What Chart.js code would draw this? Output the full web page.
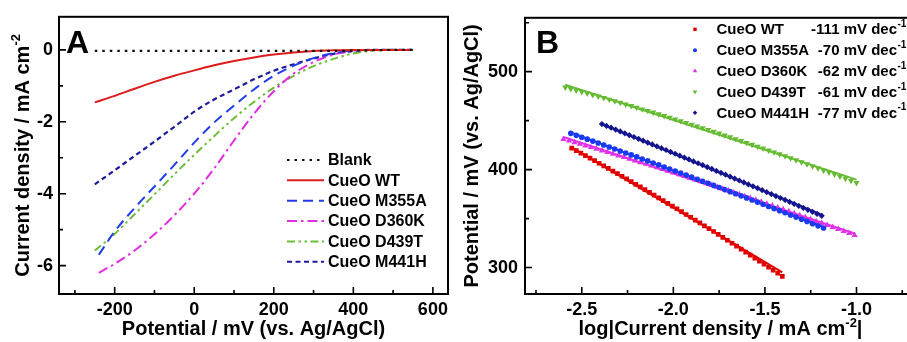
<!DOCTYPE html>
<html>
<head>
<meta charset="utf-8">
<script src="https://cdn.jsdelivr.net/npm/chart.js@4.4.1/dist/chart.umd.min.js"></script>
<style>
    html, body { margin: 0; padding: 0; background: #fff; overflow: hidden; width: 907px; height: 342px; }
    #wrapA { position: absolute; left: 0; top: 0; width: 460px; height: 342px; }
    #wrapB { position: absolute; left: 460px; top: 0; width: 460px; height: 342px; }
</style>
</head>
<body>
<div id="wrapA"><canvas id="chartA" width="460" height="342"></canvas></div>
<div id="wrapB"><canvas id="chartB" width="460" height="342"></canvas></div>
<script>
// ---- Panel A: polarization curves (potential in mV, current density in mA cm-2) ----
const potA = [-250, -200, -150, -100, -50, 0, 50, 100, 150, 200, 250, 300, 350, 400, 450, 500, 550];
const potA240 = [-240, -200, -150, -100, -50, 0, 50, 100, 150, 200, 250, 300, 350, 400, 450, 500, 550];
const jBlank = [-0.03, -0.03, -0.03, -0.03, -0.03, -0.03, -0.03, -0.03, -0.03, -0.03, -0.03, -0.03, -0.03, -0.02, -0.01, 0, 0];
const jWT    = [-1.46, -1.28, -1.08, -0.89, -0.72, -0.57, -0.43, -0.31, -0.21, -0.13, -0.07, -0.03, -0.01, 0, 0, 0, 0];
const jM355A = [-5.70, -5.05, -4.40, -3.80, -3.20, -2.58, -2.02, -1.55, -1.10, -0.72, -0.44, -0.23, -0.09, -0.02, 0, 0, 0];
const jD360K = [-6.20, -5.95, -5.58, -5.13, -4.60, -4.00, -3.30, -2.52, -1.78, -1.15, -0.66, -0.34, -0.13, -0.03, 0, 0, 0];
const jD439T = [-5.58, -5.12, -4.57, -4.02, -3.46, -2.92, -2.40, -1.90, -1.45, -1.05, -0.72, -0.45, -0.25, -0.10, -0.02, 0, 0];
const jM441H = [-3.74, -3.35, -2.95, -2.55, -2.14, -1.72, -1.38, -1.10, -0.82, -0.58, -0.40, -0.24, -0.11, -0.03, 0, 0, 0];

const xTicksA = [-200, 0, 200, 400, 600];
const xMinorA = [-300, -100, 100, 300, 500];
const yTicksA = [-6, -4, -2, 0];
const yMinorA = [-5, -3, -1];

// ---- Panel B: Tafel plots (log|j| vs potential in mV) ----
const logjWT = [-2.555, -2.53, -2.505, -2.48, -2.455, -2.43, -2.405, -2.38, -2.355, -2.33, -2.305, -2.28, -2.255, -2.23, -2.205, -2.18, -2.155, -2.13, -2.105, -2.08, -2.055, -2.03, -2.005, -1.98, -1.955, -1.93, -1.905, -1.88, -1.855, -1.83, -1.805, -1.78, -1.755, -1.73, -1.705, -1.68, -1.655, -1.63, -1.605, -1.58, -1.555, -1.53, -1.505, -1.48, -1.455, -1.43, -1.405];
const eWT = [422.0, 419.4, 416.9, 414.3, 411.7, 409.1, 406.5, 403.8, 401.2, 398.5, 395.9, 393.2, 390.5, 387.8, 385.0, 382.3, 379.6, 376.8, 374.0, 371.2, 368.4, 365.6, 362.8, 360.0, 357.1, 354.2, 351.4, 348.5, 345.6, 342.6, 339.7, 336.8, 333.8, 330.8, 327.9, 324.8, 321.8, 318.8, 315.8, 312.7, 309.7, 306.6, 303.5, 300.4, 297.3, 294.2, 291.0];

const logjM355A = [-2.56, -2.53, -2.50, -2.47, -2.44, -2.41, -2.38, -2.35, -2.32, -2.29, -2.26, -2.23, -2.20, -2.17, -2.14, -2.11, -2.08, -2.05, -2.02, -1.99, -1.96, -1.93, -1.90, -1.87, -1.84, -1.81, -1.78, -1.75, -1.72, -1.69, -1.66, -1.63, -1.60, -1.57, -1.54, -1.51, -1.48, -1.45, -1.42, -1.39, -1.36, -1.33, -1.30, -1.27, -1.24, -1.21, -1.18];
const eM355A = [437.0, 435.0, 433.0, 431.1, 429.1, 427.1, 425.1, 423.1, 421.1, 419.0, 417.0, 415.0, 413.0, 410.9, 408.9, 406.8, 404.8, 402.7, 400.6, 398.6, 396.5, 394.4, 392.3, 390.2, 388.1, 386.0, 383.9, 381.8, 379.6, 377.5, 375.4, 373.2, 371.1, 368.9, 366.8, 364.6, 362.4, 360.2, 358.1, 355.9, 353.7, 351.5, 349.3, 347.1, 344.8, 342.6, 340.4];

const logjD360K = [-2.60, -2.57, -2.54, -2.51, -2.48, -2.45, -2.42, -2.39, -2.36, -2.33, -2.30, -2.27, -2.24, -2.21, -2.18, -2.15, -2.12, -2.09, -2.06, -2.03, -2.00, -1.97, -1.94, -1.91, -1.88, -1.85, -1.82, -1.79, -1.76, -1.73, -1.70, -1.67, -1.64, -1.61, -1.58, -1.55, -1.52, -1.49, -1.46, -1.43, -1.40, -1.37, -1.34, -1.31, -1.28, -1.25, -1.22, -1.19, -1.16, -1.13, -1.10, -1.07, -1.04, -1.01];
const eD360K = [431.0, 429.4, 427.7, 426.1, 424.4, 422.8, 421.1, 419.4, 417.7, 416.1, 414.3, 412.6, 410.9, 409.2, 407.4, 405.7, 403.9, 402.2, 400.4, 398.6, 396.8, 395.0, 393.2, 391.4, 389.6, 387.8, 385.9, 384.1, 382.2, 380.3, 378.5, 376.6, 374.7, 372.8, 370.9, 369.0, 367.0, 365.1, 363.2, 361.2, 359.3, 357.3, 355.3, 353.3, 351.3, 349.3, 347.3, 345.3, 343.3, 341.2, 339.2, 337.1, 335.1, 333.0];

const logjD439T = [-2.59, -2.56, -2.53, -2.50, -2.47, -2.44, -2.41, -2.38, -2.35, -2.32, -2.29, -2.26, -2.23, -2.20, -2.17, -2.14, -2.11, -2.08, -2.05, -2.02, -1.99, -1.96, -1.93, -1.90, -1.87, -1.84, -1.81, -1.78, -1.75, -1.72, -1.69, -1.66, -1.63, -1.60, -1.57, -1.54, -1.51, -1.48, -1.45, -1.42, -1.39, -1.36, -1.33, -1.30, -1.27, -1.24, -1.21, -1.18, -1.15, -1.12, -1.09, -1.06, -1.03, -1.00];
const eD439T = [484.0, 482.5, 481.0, 479.4, 477.9, 476.3, 474.8, 473.2, 471.6, 470.0, 468.4, 466.7, 465.1, 463.4, 461.7, 460.1, 458.4, 456.7, 454.9, 453.2, 451.4, 449.7, 447.9, 446.1, 444.3, 442.5, 440.7, 438.8, 437.0, 435.1, 433.2, 431.3, 429.4, 427.5, 425.6, 423.6, 421.7, 419.7, 417.8, 415.8, 413.8, 411.7, 409.7, 407.7, 405.6, 403.5, 401.4, 399.3, 397.2, 395.1, 393.0, 390.8, 388.7, 386.5];

const logjM441H = [-2.39, -2.365, -2.34, -2.315, -2.29, -2.265, -2.24, -2.215, -2.19, -2.165, -2.14, -2.115, -2.09, -2.065, -2.04, -2.015, -1.99, -1.965, -1.94, -1.915, -1.89, -1.865, -1.84, -1.815, -1.79, -1.765, -1.74, -1.715, -1.69, -1.665, -1.64, -1.615, -1.59, -1.565, -1.54, -1.515, -1.49, -1.465, -1.44, -1.415, -1.39, -1.365, -1.34, -1.315, -1.29, -1.265, -1.24, -1.215, -1.19];
const eM441H = [446.5, 444.6, 442.8, 440.9, 439.0, 437.1, 435.2, 433.3, 431.4, 429.5, 427.6, 425.7, 423.8, 421.9, 420.0, 418.1, 416.2, 414.2, 412.3, 410.4, 408.4, 406.5, 404.6, 402.6, 400.7, 398.7, 396.7, 394.8, 392.8, 390.8, 388.9, 386.9, 384.9, 382.9, 381.0, 379.0, 377.0, 375.0, 373.0, 371.0, 369.0, 367.0, 365.0, 362.9, 360.9, 358.9, 356.9, 354.8, 352.8];

// linear fit end points
const fitLogjWT = [-2.555, -1.405], fitEWT = [422.6, 295.0];
const fitLogjM355A = [-2.56, -1.18], fitEM355A = [438.0, 341.4];
const fitLogjD360K = [-2.60, -1.01], fitED360K = [433.3, 334.7];
const fitLogjD439T = [-2.59, -1.00], fitED439T = [486.7, 389.8];
const fitLogjM441H = [-2.39, -1.19], fitEM441H = [446.5, 354.1];

const tafelNames = ['CueO WT', 'CueO M355A', 'CueO D360K', 'CueO D439T', 'CueO M441H'];
const tafelSlopes = [-111, -70, -62, -61, -77];

const xTicksB = [-2.5, -2.0, -1.5, -1.0];
const xMinorB = [-2.75, -2.25, -1.75, -1.25, -0.75];
const yTicksB = [300, 400, 500];
const yMinorB = [350, 450, 550];

// ---- styling ----
const FONT = '"Liberation Sans", Arial, Helvetica, sans-serif';
Chart.defaults.font.family = FONT;
Chart.defaults.color = '#000';

const RED = '#dd1c1c', BLUE = '#1f3de8', MAG = '#e02ee0', GRN = '#6cbd3a', NAVY = '#1c1c9c';

function pts(xs, ys) {
    return xs.map(function (x, i) { return { x: x, y: ys[i] }; });
}

// text with superscript pieces: [[text, isSup], ...]
function supText(ctx, pieces, x, y, size, align) {
    const big = 'bold ' + size + 'px ' + FONT;
    const small = 'bold ' + Math.round(size * 0.65) + 'px ' + FONT;
    let w = 0;
    pieces.forEach(function (p) { ctx.font = p[1] ? small : big; w += ctx.measureText(p[0]).width; });
    let cx = align === 'center' ? x - w / 2 : (align === 'right' ? x - w : x);
    ctx.textAlign = 'left';
    pieces.forEach(function (p) {
        ctx.font = p[1] ? small : big;
        ctx.fillText(p[0], cx, p[1] ? y - size * 0.42 : y);
        cx += ctx.measureText(p[0]).width;
    });
}

// box frame with inward major/minor ticks
function makeFrame(xMajor, xMinor, yMajor, yMinor) {
    return {
        id: 'frame',
        afterDatasetsDraw(chart) {
            const ctx = chart.ctx, a = chart.chartArea;
            const sx = chart.scales.x, sy = chart.scales.y;
            ctx.save();
            ctx.strokeStyle = '#000';
            ctx.lineWidth = 1.6;
            ctx.beginPath();
            function xt(v, len) { const p = sx.getPixelForValue(v); ctx.moveTo(p, a.bottom); ctx.lineTo(p, a.bottom - len); }
            function yt(v, len) { const p = sy.getPixelForValue(v); ctx.moveTo(a.left, p); ctx.lineTo(a.left + len, p); }
            xMajor.forEach(function (v) { xt(v, 7); });
            xMinor.forEach(function (v) { xt(v, 4); });
            yMajor.forEach(function (v) { yt(v, 7); });
            yMinor.forEach(function (v) { yt(v, 4); });
            ctx.stroke();
            ctx.lineWidth = 2;
            ctx.strokeRect(a.left, a.top, a.right - a.left, a.bottom - a.top);
            ctx.restore();
        }
    };
}

function axisOpts(min, max, ticks, fmt, fit) {
    return {
        type: 'linear', min: min, max: max,
        grid: { display: false, drawTicks: false },
        border: { display: false },
        ticks: { font: { size: 18, weight: 'bold' }, color: '#000', padding: fit.pad, callback: fmt },
        afterBuildTicks: function (s) { s.ticks = ticks.map(function (v) { return { value: v }; }); },
        afterFit: function (s) { if (fit.w) s.width = fit.w; if (fit.h) s.height = fit.h; }
    };
}

// ---- Chart A ----
const decorA = {
    id: 'decorA',
    afterDraw(chart) {
        const ctx = chart.ctx, a = chart.chartArea;
        ctx.save();
        ctx.fillStyle = '#000';
        ctx.textBaseline = 'alphabetic';
        ctx.font = 'bold 32px ' + FONT;
        ctx.fillText('A', 66, 53);

        // legend
        ctx.font = 'bold 16px ' + FONT;
        ctx.textBaseline = 'middle';
        chart.data.datasets.forEach(function (ds, i) {
            const yy = 160 + i * 20.35;
            ctx.strokeStyle = ds.borderColor;
            ctx.lineWidth = ds.borderWidth;
            ctx.setLineDash(ds.borderDash || []);
            ctx.beginPath();
            ctx.moveTo(287, yy);
            ctx.lineTo(324, yy);
            ctx.stroke();
            ctx.fillText(ds.label, 328, yy + 1);
        });
        ctx.setLineDash([]);

        // axis titles
        ctx.textBaseline = 'alphabetic';
        supText(ctx, [['Potential / mV (vs. Ag/AgCl)', false]], (a.left + a.right) / 2, 335, 20, 'center');
        ctx.translate(28.5, (a.top + a.bottom) / 2);
        ctx.rotate(-Math.PI / 2);
        supText(ctx, [['Current density / mA cm', false], ['-2', true]], 0, 0, 20, 'center');
        ctx.restore();
    }
};

function lineSet(label, xs, ys, color, dash, width) {
    return {
        label: label, data: pts(xs, ys), borderColor: color, backgroundColor: color,
        borderWidth: width, borderDash: dash, pointRadius: 0, fill: false,
        cubicInterpolationMode: 'monotone'
    };
}

new Chart(document.getElementById('chartA'), {
    type: 'line',
    data: {
        datasets: [
            lineSet('Blank', potA, jBlank, '#111', [2.5, 5], 2.2),
            lineSet('CueO WT', potA, jWT, RED, [], 2),
            lineSet('CueO M355A', potA240, jM355A, BLUE, [10, 6], 2),
            lineSet('CueO D360K', potA240, jD360K, MAG, [10, 4, 2.5, 4], 2),
            lineSet('CueO D439T', potA, jD439T, GRN, [8, 3.5, 2.5, 3.5, 2.5, 3.5], 2),
            lineSet('CueO M441H', potA, jM441H, NAVY, [5, 3.5], 2.2)
        ]
    },
    options: {
        responsive: false, animation: false, devicePixelRatio: 1,
        layout: { padding: { top: 15, right: 12, left: 0, bottom: 0 } },
        plugins: { legend: { display: false }, tooltip: { enabled: false } },
        scales: {
            x: axisOpts(-340, 638, xTicksA, function (v) { return String(v); }, { h: 48, pad: 5 }),
            y: axisOpts(-6.79, 0.92, yTicksA, function (v) { return String(v); }, { w: 59, pad: 6 })
        }
    },
    plugins: [makeFrame(xTicksA, xMinorA, yTicksA, yMinorA), decorA]
});

// ---- Chart B ----
const seriesB = [
    { x: logjWT, y: eWT, fx: fitLogjWT, fy: fitEWT, color: '#e00000', style: 'rect', r: 3.3, lr: 2.4, rot: 0 },
    { x: logjM355A, y: eM355A, fx: fitLogjM355A, fy: fitEM355A, color: '#1a3af0', style: 'circle', r: 2.8, lr: 2.0, rot: 0 },
    { x: logjD360K, y: eD360K, fx: fitLogjD360K, fy: fitED360K, color: '#e030e8', style: 'triangle', r: 3.6, lr: 2.6, rot: 0 },
    { x: logjD439T, y: eD439T, fx: fitLogjD439T, fy: fitED439T, color: '#66bb33', style: 'triangle', r: 3.6, lr: 2.6, rot: 180 },
    { x: logjM441H, y: eM441H, fx: fitLogjM441H, fy: fitEM441H, color: '#14148f', style: 'rectRot', r: 3.1, lr: 2.3, rot: 0 }
];

const datasetsB = [];
seriesB.forEach(function (s, i) {
    datasetsB.push({
        label: tafelNames[i], data: pts(s.x, s.y), showLine: false,
        pointStyle: s.style, pointRadius: s.r, pointRotation: s.rot,
        pointBackgroundColor: s.color, pointBorderWidth: 0, borderColor: s.color
    });
});
seriesB.forEach(function (s, i) {
    datasetsB.push({
        label: tafelNames[i] + ' fit', data: pts(s.fx, s.fy), showLine: true,
        borderColor: s.color, borderWidth: 2, pointRadius: 0
    });
});

const decorB = {
    id: 'decorB',
    afterDraw(chart) {
        const ctx = chart.ctx, a = chart.chartArea;
        ctx.save();
        ctx.fillStyle = '#000';
        ctx.textBaseline = 'alphabetic';
        ctx.font = 'bold 32px ' + FONT;
        ctx.fillText('B', 76, 53);

        // legend
        seriesB.forEach(function (s, i) {
            const yy = 29.3 + i * 20.85;
            ctx.fillStyle = s.color;
            Chart.helpers.drawPoint(ctx, { pointStyle: s.style, rotation: s.rot, radius: s.lr, borderWidth: 0 }, 235, yy);
            ctx.fillStyle = '#000';
            ctx.textBaseline = 'middle';
            ctx.font = 'bold 15px ' + FONT;
            ctx.textAlign = 'left';
            ctx.fillText(tafelNames[i], 256.5, yy + 1);
            ctx.textAlign = 'right';
            ctx.fillText(tafelSlopes[i] + ' mV dec', 437, yy + 1);
            ctx.textAlign = 'left';
            ctx.font = 'bold 10px ' + FONT;
            ctx.fillText('-1', 437.5, yy - 5);
        });

        // axis titles
        ctx.textBaseline = 'alphabetic';
        supText(ctx, [['log|Current density / mA cm', false], ['-2', true], ['|', false]], (a.left + a.right) / 2, 335, 20, 'center');
        ctx.translate(18, (a.top + a.bottom) / 2);
        ctx.rotate(-Math.PI / 2);
        supText(ctx, [['Potential / mV (vs. Ag/AgCl)', false]], 0, 0, 20, 'center');
        ctx.restore();
    }
};

new Chart(document.getElementById('chartB'), {
    type: 'scatter',
    data: { datasets: datasetsB },
    options: {
        responsive: false, animation: false, devicePixelRatio: 1,
        layout: { padding: { top: 15, right: 0, left: 0, bottom: 0 } },
        plugins: { legend: { display: false }, tooltip: { enabled: false } },
        scales: {
            x: axisOpts(-2.81, -0.675, xTicksB, function (v) { return v.toFixed(1); }, { h: 48, pad: 5 }),
            y: axisOpts(273, 555, yTicksB, function (v) { return String(v); }, { w: 65, pad: 7 })
        }
    },
    plugins: [makeFrame(xTicksB, xMinorB, yTicksB, yMinorB), decorB]
});
</script>
</body>
</html>
